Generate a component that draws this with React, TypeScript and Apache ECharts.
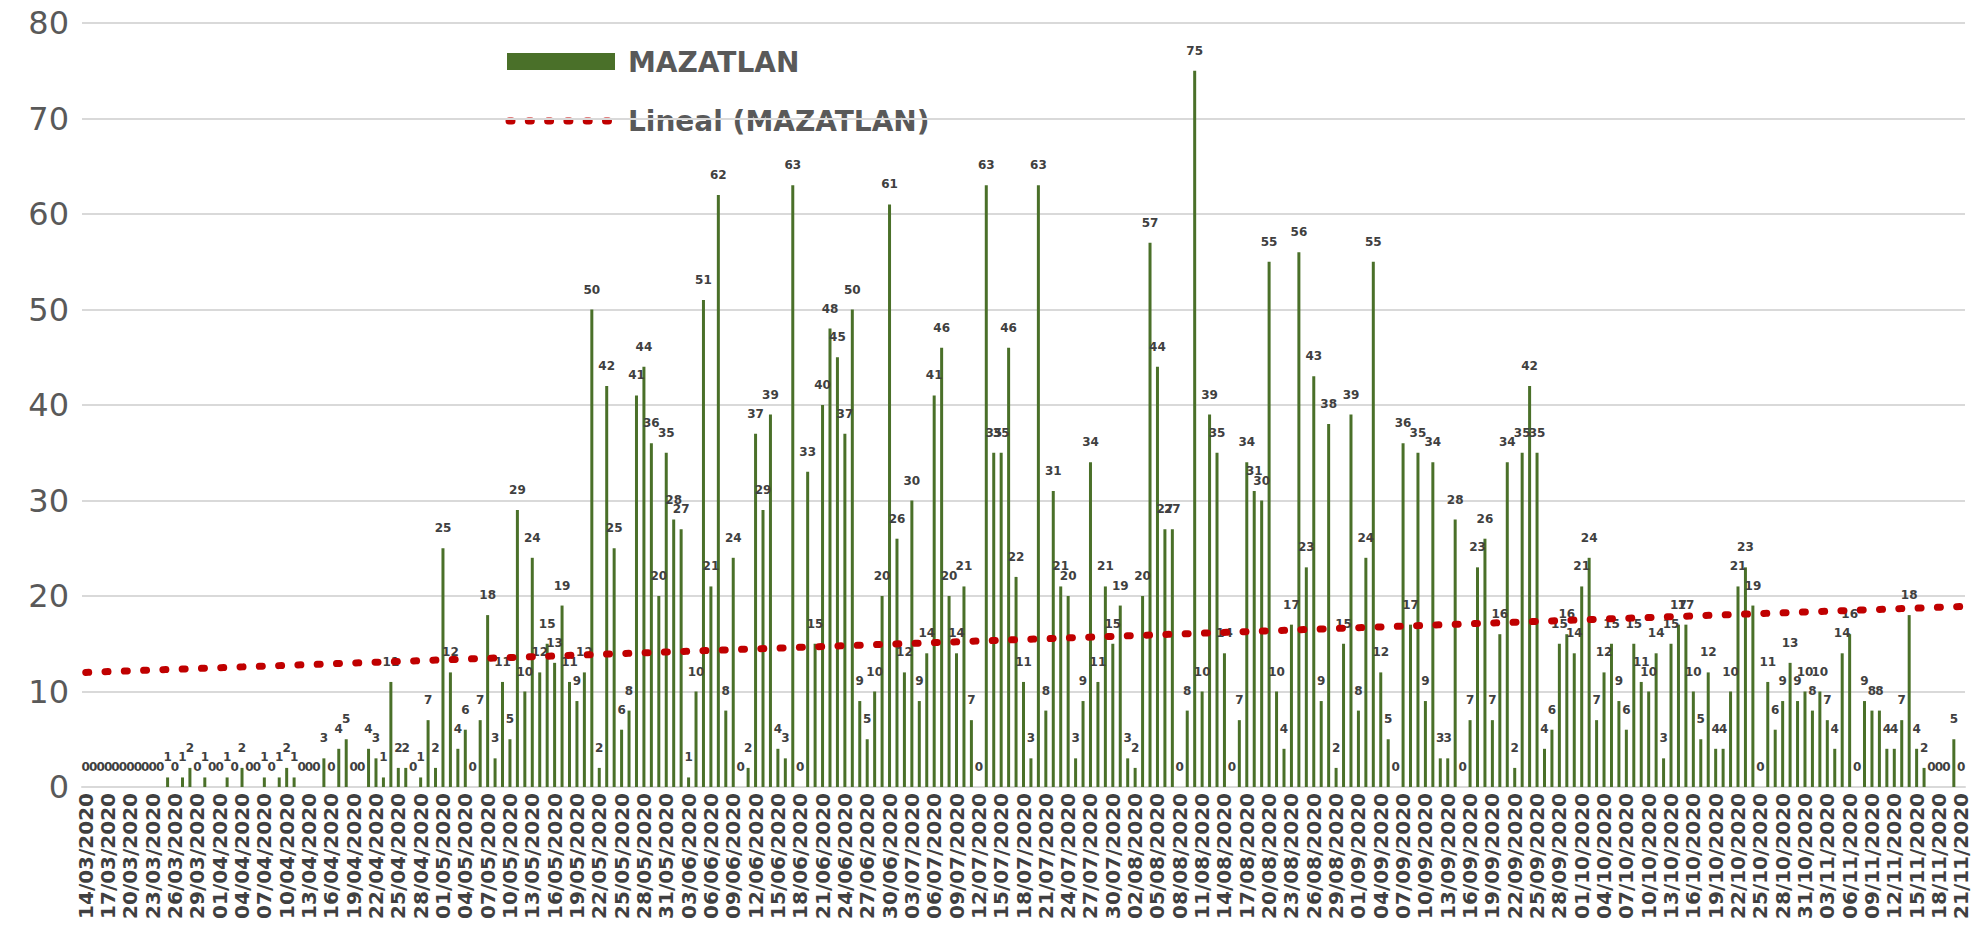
import React, { useEffect, useRef } from "react";
import * as echarts from "echarts";

// Daily cases, 14/03/2020 .. 21/11/2020 (253 days)
const startDay = { y: 2020, m: 3, d: 14 };
const dayCount = 253;

const cases: number[] = [
  0, 0, 0, 0, 0, 0, 0, 0, 0, 0,
  0, 1, 0, 1, 2, 0, 1, 0, 0, 1,
  0, 2, 0, 0, 1, 0, 1, 2, 1, 0,
  0, 0, 3, 0, 4, 5, 0, 0, 4, 3,
  1, 11, 2, 2, 0, 1, 7, 2, 25, 12,
  4, 6, 0, 7, 18, 3, 11, 5, 29, 10,
  24, 12, 15, 13, 19, 11, 9, 12, 50, 2,
  42, 25, 6, 8, 41, 44, 36, 20, 35, 28,
  27, 1, 10, 51, 21, 62, 8, 24, 0, 2,
  37, 29, 39, 4, 3, 63, 0, 33, 15, 40,
  48, 45, 37, 50, 9, 5, 10, 20, 61, 26,
  12, 30, 9, 14, 41, 46, 20, 14, 21, 7,
  0, 63, 35, 35, 46, 22, 11, 3, 63, 8,
  31, 21, 20, 3, 9, 34, 11, 21, 15, 19,
  3, 2, 20, 57, 44, 27, 27, 0, 8, 75,
  10, 39, 35, 14, 0, 7, 34, 31, 30, 55,
  10, 4, 17, 56, 23, 43, 9, 38, 2, 15,
  39, 8, 24, 55, 12, 5, 0, 36, 17, 35,
  9, 34, 3, 3, 28, 0, 7, 23, 26, 7,
  16, 34, 2, 35, 42, 35, 4, 6, 15, 16,
  14, 21, 24, 7, 12, 15, 9, 6, 15, 11,
  10, 14, 3, 15, 17, 17, 10, 5, 12, 4,
  4, 10, 21, 23, 19, 0, 11, 6, 9, 13,
  9, 10, 8, 10, 7, 4, 14, 16, 0, 9,
  8, 8, 4, 4, 7, 18, 4, 2, 0, 0,
  0, 5, 0,
];

// Linear trend line ("Lineal") end values
const trendStart = 12.0;
const trendEnd = 18.9;

const yTicks = { min: 0, max: 80, interval: 10 };

const seriesName = "MAZATLAN";
const trendName = "Lineal (MAZATLAN)";

function buildDates(): string[] {
  const out: string[] = [];
  const base = Date.UTC(startDay.y, startDay.m - 1, startDay.d);
  for (let i = 0; i < dayCount; i++) {
    const dt = new Date(base + i * 86400000);
    const dd = String(dt.getUTCDate()).padStart(2, "0");
    const mm = String(dt.getUTCMonth() + 1).padStart(2, "0");
    out.push(`${dd}/${mm}/${dt.getUTCFullYear()}`);
  }
  return out;
}

const GREEN = "#4a7029";
const RED = "#c00000";

export default function App() {
  const ref = useRef<HTMLDivElement>(null);
  useEffect(() => {
    document.body.style.margin = "0";
    if (!ref.current) return;
    const chart = echarts.init(ref.current, null, { renderer: "svg" });
    const dates = buildDates();
    const last = dates.length - 1;
    chart.setOption({
      animation: false,
      backgroundColor: "#ffffff",
      grid: { left: 82, right: 15, top: 23, bottom: 142 },
      xAxis: {
        type: "category",
        data: dates,
        boundaryGap: true,
        axisLine: { lineStyle: { color: "#d9d9d9", width: 2 } },
        axisTick: { show: false },
        axisLabel: {
          interval: 2,
          rotate: 90,
          margin: 6,
          fontSize: 20,
          fontWeight: "bold",
          color: "#404040",
          fontFamily: "DejaVu Sans",
        },
      },
      yAxis: {
        type: "value",
        min: yTicks.min,
        max: yTicks.max,
        interval: yTicks.interval,
        axisLine: { show: false },
        axisTick: { show: false },
        axisLabel: {
          fontSize: 32,
          color: "#595959",
          margin: 13,
          fontFamily: "DejaVu Sans",
        },
        splitLine: { lineStyle: { color: "#d9d9d9", width: 2 } },
      },
      series: [
        {
          name: seriesName,
          type: "bar",
          data: cases,
          barWidth: 3,
          itemStyle: { color: GREEN },
          label: {
            show: true,
            position: "top",
            distance: 14,
            fontSize: 12,
            fontWeight: "bold",
            color: "#404040",
            fontFamily: "DejaVu Sans",
          },
        },
        {
          name: trendName,
          type: "line",
          data: [
            [0, trendStart],
            [last, trendEnd],
          ],
          symbol: "none",
          z: 5,
          lineStyle: { color: RED, width: 7, type: [3, 16.3], cap: "round" },
        },
      ],
      graphic: [
        {
          type: "rect",
          shape: { x: 507, y: 53, width: 108, height: 17 },
          style: { fill: GREEN },
        },
        {
          type: "text",
          x: 628,
          y: 62,
          style: {
            text: seriesName,
            fill: "#595959",
            font: "bold 28px 'DejaVu Sans'",
            textVerticalAlign: "middle",
          },
        },
        {
          type: "line",
          shape: { x1: 509, y1: 121, x2: 612, y2: 121 },
          style: { stroke: RED, lineWidth: 7, lineDash: [3, 16.3], lineCap: "round" },
        },
        {
          type: "text",
          x: 628,
          y: 121,
          style: {
            text: trendName,
            fill: "#595959",
            font: "bold 28px 'DejaVu Sans'",
            textVerticalAlign: "middle",
          },
        },
      ],
    });
    return () => chart.dispose();
  }, []);
  return <div ref={ref} style={{ width: 1980, height: 929 }} />;
}
